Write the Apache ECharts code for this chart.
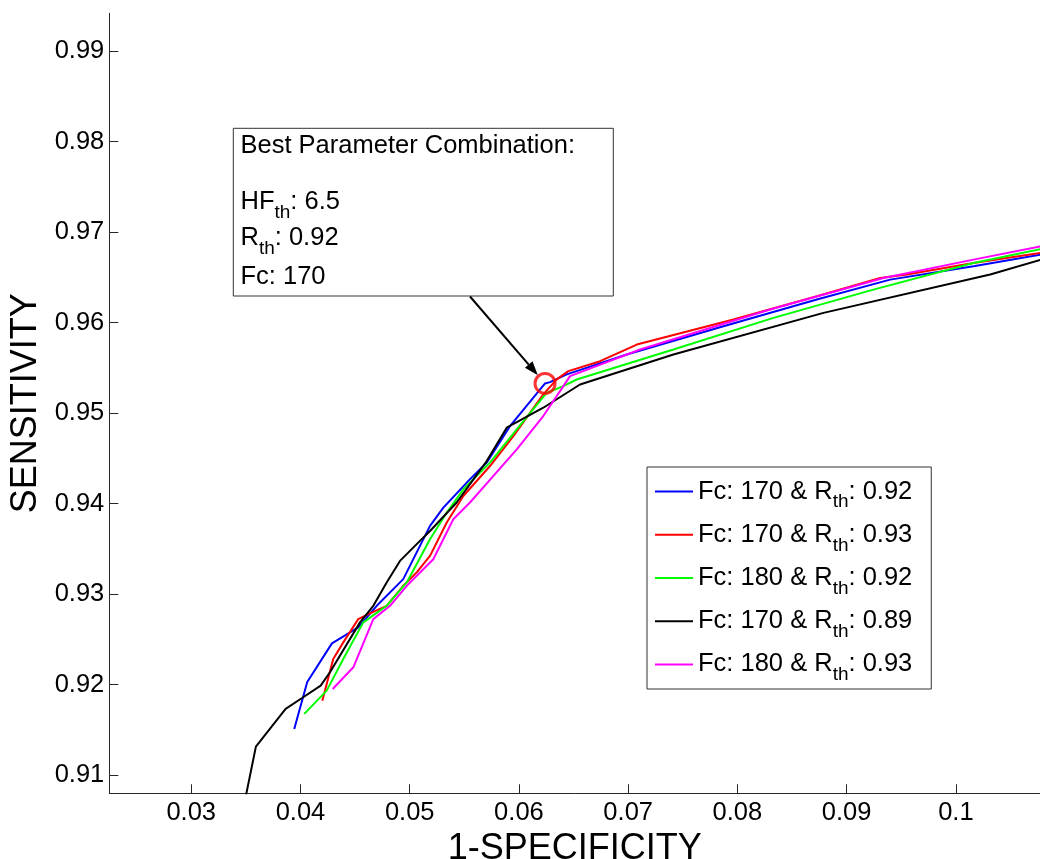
<!DOCTYPE html>
<html>
<head>
<meta charset="utf-8">
<script src="https://cdn.jsdelivr.net/npm/echarts@6/dist/echarts.min.js"></script>
<style>
html,body{margin:0;padding:0;background:#fff;}
#chart{width:1040px;height:859px;}
</style>
</head>
<body>
<div id="chart"></div>
<script>
// ---- Data ----
const xTicks = [0.03, 0.04, 0.05, 0.06, 0.07, 0.08, 0.09, 0.1];
const yTicks = [0.91, 0.92, 0.93, 0.94, 0.95, 0.96, 0.97, 0.98, 0.99];

const seriesNames = ['Fc: 170 & Rth: 0.92', 'Fc: 170 & Rth: 0.93', 'Fc: 180 & Rth: 0.92', 'Fc: 170 & Rth: 0.89', 'Fc: 180 & Rth: 0.93'];
const legendLabels = ['Fc: 170 & R{sub|th}: 0.92', 'Fc: 170 & R{sub|th}: 0.93', 'Fc: 180 & R{sub|th}: 0.92', 'Fc: 170 & R{sub|th}: 0.89', 'Fc: 180 & R{sub|th}: 0.93'];
const seriesColors = ['#0000FF', '#FF0000', '#00FF00', '#000000', '#FF00FF'];

const fc170_r092 = [
  [0.03943, 0.91511], [0.04062, 0.92030], [0.04288, 0.92456], [0.04529, 0.92633],
  [0.04698, 0.92871], [0.04941, 0.93166], [0.05186, 0.93754], [0.05308, 0.93956],
  [0.05552, 0.94269], [0.05705, 0.94453], [0.05918, 0.94856], [0.06239, 0.95327],
  [0.06285, 0.95342], [0.06438, 0.95427], [0.06987, 0.95647], [0.07872, 0.95959],
  [0.08727, 0.96254], [0.09398, 0.96474], [0.10161, 0.96621], [0.10780, 0.96750]
];
const fc170_r093 = [
  [0.04200, 0.91823], [0.04300, 0.92283], [0.04392, 0.92467], [0.04529, 0.92724],
  [0.04621, 0.92780], [0.04789, 0.92871], [0.04941, 0.93092], [0.05064, 0.93240],
  [0.05186, 0.93423], [0.05339, 0.93791], [0.05491, 0.94084], [0.05735, 0.94415],
  [0.05949, 0.94746], [0.06223, 0.95206], [0.06346, 0.95372], [0.06452, 0.95463],
  [0.06743, 0.95573], [0.07079, 0.95757], [0.07963, 0.96033], [0.08727, 0.96290],
  [0.09307, 0.96493], [0.09551, 0.96530], [0.10161, 0.96658], [0.10780, 0.96769]
];
const fc180_r092 = [
  [0.04035, 0.91677], [0.04240, 0.91934], [0.04392, 0.92283], [0.04575, 0.92688],
  [0.04789, 0.92871], [0.04973, 0.93129], [0.05186, 0.93607], [0.05339, 0.93901],
  [0.05491, 0.94158], [0.05735, 0.94453], [0.05980, 0.94820], [0.06255, 0.95225],
  [0.06407, 0.95298], [0.06529, 0.95371], [0.07414, 0.95702], [0.08330, 0.96052],
  [0.09245, 0.96364], [0.10161, 0.96658], [0.10780, 0.96813]
];
const fc170_r089 = [
  [0.03480, 0.90651], [0.03592, 0.91316], [0.03864, 0.91732], [0.04011, 0.91850],
  [0.04185, 0.91989], [0.04270, 0.92137], [0.04545, 0.92688], [0.04667, 0.92871],
  [0.04789, 0.93129], [0.04911, 0.93367], [0.05064, 0.93552], [0.05186, 0.93698],
  [0.05430, 0.94012], [0.05705, 0.94470], [0.05888, 0.94839], [0.05980, 0.94900],
  [0.06223, 0.95059], [0.06559, 0.95316], [0.07414, 0.95647], [0.08788, 0.96107],
  [0.10314, 0.96530], [0.10780, 0.96695]
];
const fc180_r093 = [
  [0.04295, 0.91952], [0.04484, 0.92192], [0.04667, 0.92724], [0.04820, 0.92871],
  [0.04973, 0.93092], [0.05216, 0.93386], [0.05399, 0.93827], [0.05552, 0.94012],
  [0.05980, 0.94600], [0.06223, 0.94967], [0.06407, 0.95298], [0.06468, 0.95408],
  [0.07109, 0.95702], [0.08299, 0.96144], [0.09337, 0.96493], [0.10161, 0.96695],
  [0.10780, 0.96842]
];
const allSeries = [fc170_r092, fc170_r093, fc180_r092, fc170_r089, fc180_r093];

const bestPoint = [0.06239, 0.95327];
const annotationLines = [
  'Best Parameter Combination:',
  'HF{sub|th}: 6.5',
  'R{sub|th}: 0.92',
  'Fc: 170'
];

// ---- Chart ----
const FONT = "'Liberation Sans', Arial, Helvetica, sans-serif";
const chart = echarts.init(document.getElementById('chart'), null, {renderer: 'canvas'});

function fmt(v) { return String(parseFloat(Number(v).toFixed(3))); }

const series = allSeries.map((d, i) => ({
  name: seriesNames[i],
  type: 'line',
  data: d,
  showSymbol: false,
  symbol: 'none',
  clip: true,
  lineStyle: {color: seriesColors[i], width: 2},
  itemStyle: {color: seriesColors[i]},
  z: 2 + i,
  animation: false
}));
series.push({
  name: 'best',
  type: 'scatter',
  data: [bestPoint],
  symbol: 'circle',
  symbolSize: 20,
  itemStyle: {color: 'rgba(0,0,0,0)', borderColor: '#FF0000', borderWidth: 3},
  z: 10,
  animation: false
});

const labelMap = {};
seriesNames.forEach((n, i) => labelMap[n] = legendLabels[i]);

chart.setOption({
  animation: false,
  backgroundColor: '#fff',
  grid: {left: 109.3, right: 0, top: 13.3, bottom: 65.7, containLabel: false, outerBoundsMode: 'none'},
  xAxis: {
    type: 'value', min: 0.0225, max: 0.1077,
    axisLine: {show: true, onZero: false, lineStyle: {color: '#262626', width: 1}},
    axisTick: {show: true, inside: true, length: 9, customValues: xTicks, lineStyle: {color: '#262626'}},
    axisLabel: {customValues: xTicks, margin: 7, fontSize: 25.5, color: '#000', fontFamily: FONT, formatter: fmt},
    splitLine: {show: false},
    name: '1-SPECIFICITY', nameLocation: 'middle', nameGap: 28,
    nameTextStyle: {fontSize: 36, fontFamily: FONT, color: '#000'}
  },
  yAxis: {
    type: 'value', min: 0.908, max: 0.99416,
    axisLine: {show: true, onZero: false, lineStyle: {color: '#262626', width: 1}},
    axisTick: {show: true, inside: true, length: 9, customValues: yTicks, lineStyle: {color: '#262626'}},
    axisLabel: {customValues: yTicks, margin: 5, fontSize: 25.5, color: '#000', fontFamily: FONT, formatter: fmt},
    splitLine: {show: false},
    name: 'SENSITIVITY', nameLocation: 'middle', nameGap: 55, nameRotate: 90,
    nameTextStyle: {fontSize: 36, fontFamily: FONT, color: '#000'}
  },
  legend: {
    data: seriesNames,
    orient: 'vertical',
    left: 647, top: 467,
    padding: [4.6, 19, 4.6, 8],
    itemWidth: 38, itemHeight: 2, itemGap: 3.2,
    icon: 'rect',
    borderColor: '#333', borderWidth: 1, backgroundColor: '#fff',
    formatter: name => labelMap[name],
    textStyle: {
      fontSize: 25.5, fontFamily: FONT, color: '#000', lineHeight: 40,
      rich: {sub: {fontSize: 19, fontFamily: FONT, color: '#000', verticalAlign: 'bottom'}}
    }
  },
  series: series
});

// ---- Annotation box and arrow ----
const boxX = 233.3, boxY = 128.3, boxW = 380, boxH = 167.7;
const lineYs = [146, 202, 238, 277];
const richSub = {sub: {fontSize: 19, fontFamily: FONT, fill: '#000', verticalAlign: 'bottom'}};
const textEls = annotationLines.map((t, i) => ({
  type: 'text',
  x: 240.5, y: lineYs[i],
  style: {text: t, fontSize: 25.5, fontFamily: FONT, fill: '#000', verticalAlign: 'middle', align: 'left', lineHeight: 40, rich: richSub},
  z: 101
}));

const c = chart.convertToPixel({gridIndex: 0}, bestPoint);
const start = [470, boxY + boxH + 0.5];
let dx = c[0] - start[0], dy = c[1] - start[1];
const len = Math.sqrt(dx * dx + dy * dy);
dx /= len; dy /= len;
const tip = [c[0] - dx * 11, c[1] - dy * 11];
const headLen = 14, headW = 5;
const base = [tip[0] - dx * headLen, tip[1] - dy * headLen];
const nx = -dy, ny = dx;

chart.setOption({
  graphic: [
    {type: 'rect', shape: {x: boxX, y: boxY, width: boxW, height: boxH},
     style: {fill: '#fff', stroke: '#333', lineWidth: 1}, z: 100},
    ...textEls,
    {type: 'polyline', shape: {points: [start, base]}, style: {stroke: '#000', lineWidth: 2}, z: 100},
    {type: 'polygon', shape: {points: [tip, [base[0] + nx * headW, base[1] + ny * headW], [base[0] - nx * headW, base[1] - ny * headW]]},
     style: {fill: '#000'}, z: 100}
  ]
});
</script>
</body>
</html>
